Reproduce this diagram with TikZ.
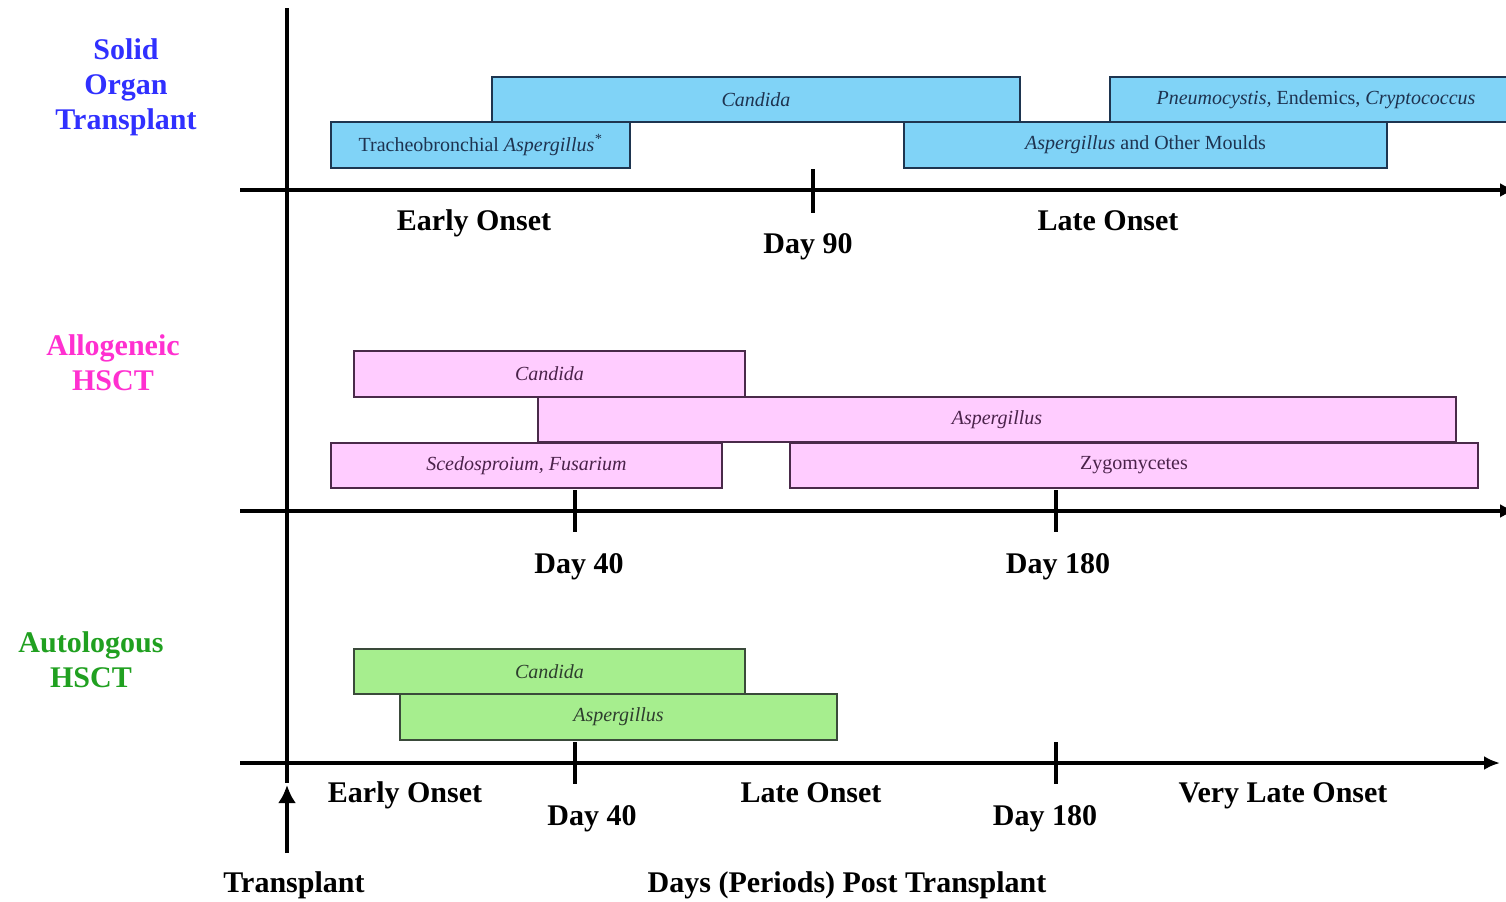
\documentclass[tikz,border=0pt]{standalone}
\usepackage{fontspec}
\setmainfont{Liberation Serif}
\usetikzlibrary{arrows.meta}
\definecolor{sotfill}{HTML}{80D3F7}
\definecolor{sotline}{HTML}{1E3550}
\definecolor{sottext}{HTML}{1E3350}
\definecolor{allofill}{HTML}{FFCCFF}
\definecolor{alloline}{HTML}{4A2A4A}
\definecolor{allotext}{HTML}{4A224A}
\definecolor{autofill}{HTML}{A6EE8E}
\definecolor{autoline}{HTML}{3A4A3A}
\definecolor{autotext}{HTML}{2E3E2E}
\definecolor{sotlabel}{HTML}{3030FF}
\definecolor{allolabel}{HTML}{FF30D0}
\definecolor{autolabel}{HTML}{20A020}
\begin{document}
\begin{tikzpicture}[x=0.5pt,y=-0.5pt,
  axis/.style={line width=2pt, black},
  tickmark/.style={line width=2pt, black},
  bar/.style={draw, line width=1pt, inner sep=0pt, font=\fontsize{10}{12}\selectfont\itshape},
  sbar/.style={bar, fill=sotfill, draw=sotline, text=sottext, minimum height=22.75pt},
  abar/.style={bar, fill=allofill, draw=alloline, text=allotext, minimum height=22.75pt},
  gbar/.style={bar, fill=autofill, draw=autoline, text=autotext, minimum height=22.75pt},
  lbl/.style={font=\fontsize{15}{17.5}\selectfont\bfseries, anchor=base, inner sep=0pt},
  rowlbl/.style={font=\fontsize{15}{17.5}\selectfont\bfseries, align=center, inner sep=0pt},
  tip/.style={-{Latex[length=8pt,width=7pt]}},
  uptip/.style={-{Latex[length=9pt,width=9pt]}}
]
\useasboundingbox (0,0) rectangle (1506,901);
\begin{scope}
\clip (0,0) rectangle (1506,901);

% coordinates for axes
\coordinate (vtop) at (287,8);
\coordinate (vbot) at (287,783);
\coordinate (ax1l) at (240,190); \coordinate (ax1r) at (1516,190);
\coordinate (ax2l) at (240,511); \coordinate (ax2r) at (1516,511);
\coordinate (ax3l) at (240,763); \coordinate (ax3r) at (1500,763);
\coordinate (trb) at (287,853); \coordinate (trt) at (287,785);

\draw[axis] (vtop) -- (vbot);
\draw[axis,tip] (ax1l) -- (ax1r);
\draw[axis,tip] (ax2l) -- (ax2r);
\draw[axis,tip] (ax3l) -- (ax3r);
\draw[axis,uptip] (trb) -- (trt);

% ticks
\draw[tickmark] (813,169) -- (813,213);
\draw[tickmark] (575,490) -- (575,532);
\draw[tickmark] (1056,490) -- (1056,532);
\draw[tickmark] (575,742) -- (575,784);
\draw[tickmark] (1056,742) -- (1056,784);

% row labels
\node[rowlbl, text=sotlabel] (sot) at (126,87) {Solid\\Organ\\Transplant};
\node[rowlbl, text=allolabel] (allo) at (113,363) {Allogeneic\\HSCT};
\node[rowlbl, text=autolabel] (auto) at (91,660) {Autologous\\HSCT};

% solid organ bars
\node[sbar, minimum width=264pt] (candS) at (756,99.5) {Candida};
\node[sbar, minimum width=206pt] (pneu) at (1316,99.5) {Pneumocystis, {\upshape Endemics,} Cryptococcus};
\node[sbar, minimum width=149.5pt] (trach) at (480.5,145) {{\upshape Tracheobronchial} Aspergillus\textsuperscript{*}};
\node[sbar, minimum width=241.5pt] (asperS) at (1145.5,145) {Aspergillus {\upshape and Other Moulds}};

% allogeneic bars
\node[abar, minimum width=195.5pt] (candA) at (549.5,374) {Candida};
\node[abar, minimum width=459pt] (asperA) at (997,419.5) {Aspergillus};
\node[abar, minimum width=195.5pt] (sced) at (526.5,465.5) {Scedosproium, Fusarium};
\node[abar, minimum width=344pt] (zygo) at (1134,465.5) {{\upshape Zygomycetes}};

% autologous bars
\node[gbar, minimum width=195.5pt] (candB) at (549.5,671.5) {Candida};
\node[gbar, minimum width=218.5pt] (asperB) at (618.5,717) {Aspergillus};

% axis labels
\node[lbl] (eo1) at (474,230) {Early Onset};
\node[lbl] (d90) at (808,253) {Day 90};
\node[lbl] (lo1) at (1108,230) {Late Onset};
\node[lbl] (d40a) at (579,573) {Day 40};
\node[lbl] (d180a) at (1058,573) {Day 180};
\node[lbl] (eo2) at (405,802) {Early Onset};
\node[lbl] (d40b) at (592,825) {Day 40};
\node[lbl] (lo2) at (811,802) {Late Onset};
\node[lbl] (d180b) at (1045,825) {Day 180};
\node[lbl] (vlo) at (1283,802) {Very Late Onset};
\node[lbl] (tr) at (294,892) {Transplant};
\node[lbl] (dpt) at (847,892) {Days (Periods) Post Transplant};
\end{scope}
\end{tikzpicture}
\end{document}
